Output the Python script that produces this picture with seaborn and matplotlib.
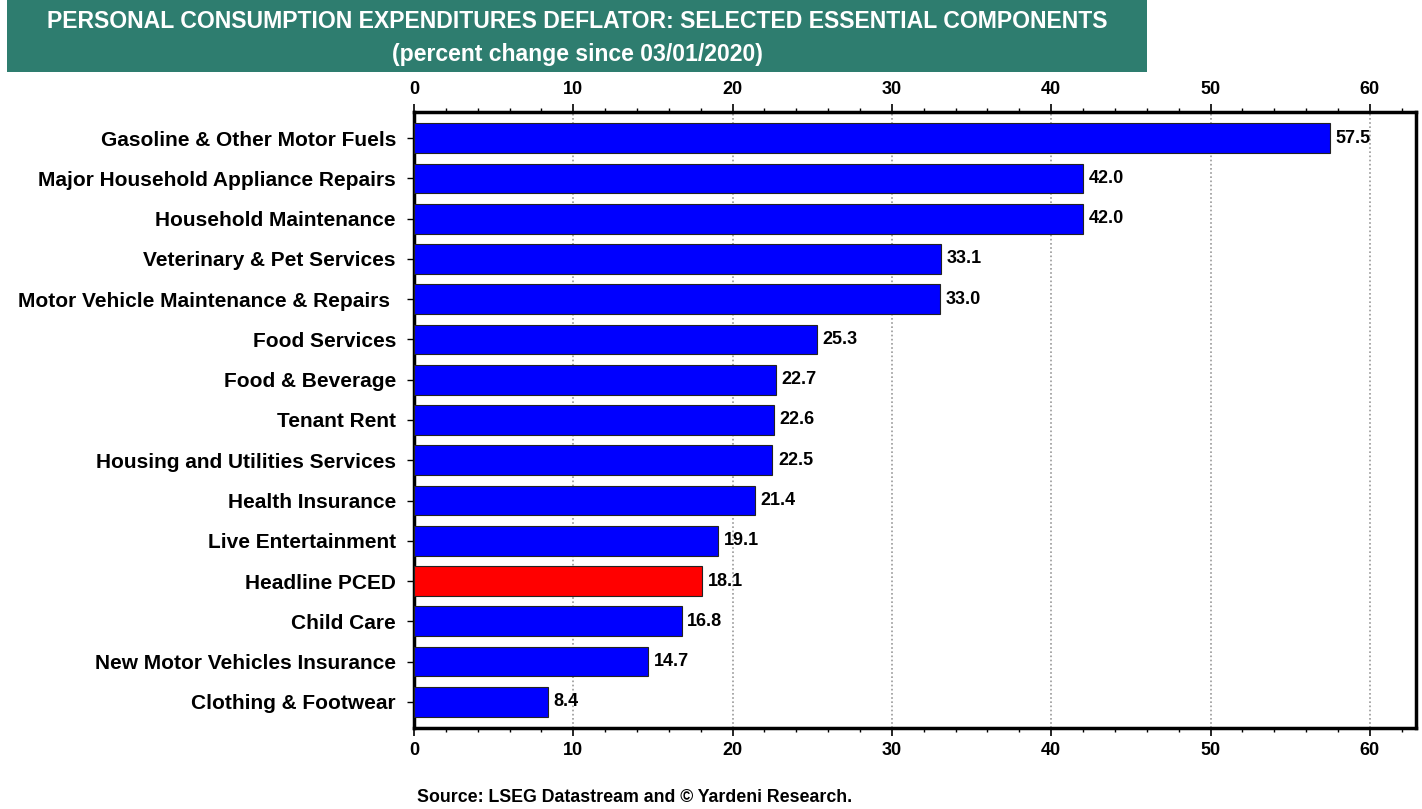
import pandas as pd
import numpy as np
import matplotlib
matplotlib.use('Agg')
import matplotlib.pyplot as plt
import seaborn as sns
from matplotlib.ticker import MultipleLocator
from matplotlib.patches import Rectangle

# Data
CATEGORIES = ['Gasoline & Other Motor Fuels', 'Major Household Appliance Repairs',
              'Household Maintenance', 'Veterinary & Pet Services',
              'Motor Vehicle Maintenance & Repairs ', 'Food Services',
              'Food & Beverage', 'Tenant Rent', 'Housing and Utilities Services',
              'Health Insurance', 'Live Entertainment', 'Headline PCED',
              'Child Care', 'New Motor Vehicles Insurance', 'Clothing & Footwear']
VALUES = [57.5, 42.0, 42.0, 33.1, 33.0, 25.3, 22.7, 22.6, 22.5, 21.4, 19.1, 18.1, 16.8, 14.7, 8.4]
HIGHLIGHT = 'Headline PCED'

TITLE = 'PERSONAL CONSUMPTION EXPENDITURES DEFLATOR: SELECTED ESSENTIAL COMPONENTS'
SUBTITLE = '(percent change since 03/01/2020)'
SOURCE = 'Source: LSEG Datastream and \u00a9 Yardeni Research.'

sns.set_theme(style='white')
plt.rcParams['font.family'] = ['Liberation Sans', 'DejaVu Sans']
plt.rcParams['font.weight'] = 'bold'
plt.rcParams['text.color'] = 'black'
plt.rcParams['xtick.color'] = 'black'
plt.rcParams['ytick.color'] = 'black'

df = pd.DataFrame({'cat': CATEGORIES, 'val': VALUES})
palette = {c: ('#FF0000' if c == HIGHLIGHT else '#0000FF') for c in CATEGORIES}

fig = plt.figure(figsize=(14.22, 8.09), dpi=100)
ax = fig.add_axes([414 / 1422, 1 - 728 / 809, (1416 - 414) / 1422, (728 - 112) / 809])

sns.barplot(data=df, x='val', y='cat', hue='cat', palette=palette, legend=False,
            orient='h', width=0.74, edgecolor='#222222', linewidth=0.8,
            saturation=1, ax=ax, zorder=3)

ax.set_xlim(0, 62.9)
ax.set_ylim(len(CATEGORIES) - 0.35, -0.65)
ax.set_xlabel('')
ax.set_ylabel('')

# value labels
for i, v in enumerate(VALUES):
    ax.text(v + 0.35, i, '{:.1f}'.format(v), va='center', ha='left',
            fontsize=13, fontweight='bold', color='black', zorder=5)

ax.xaxis.set_major_locator(MultipleLocator(10))
ax.xaxis.set_minor_locator(MultipleLocator(2))
ax.tick_params(axis='x', which='major', top=True, bottom=True, labeltop=True,
               labelbottom=True, direction='out', length=6, width=1.2,
               labelsize=13, pad=4, color='black', labelcolor='black')
ax.tick_params(axis='x', which='minor', top=True, bottom=True, direction='out',
               length=3, width=1, color='black')
ax.tick_params(axis='y', which='major', left=True, direction='out', length=5,
               width=1, labelsize=15, pad=8, color='black', labelcolor='black')
for lab in ax.get_xticklabels() + ax.get_yticklabels():
    lab.set_fontweight('bold')

ax.grid(axis='x', which='major', linestyle=(0, (1, 1.5)), color='#999999', linewidth=1.2, zorder=0)
ax.grid(axis='y', visible=False)
for s in ax.spines.values():
    s.set_visible(True)
    s.set_color('black')
    s.set_linewidth(2.5)

# title banner
fig.patches.append(Rectangle((7 / 1422, 1 - 72 / 809), (1147 - 7) / 1422, 72 / 809,
                             transform=fig.transFigure, facecolor='#2E7D6F',
                             edgecolor='none', zorder=0))
fig.text(577 / 1422, 1 - 22 / 809, TITLE, ha='center', va='center',
         fontsize=16.6, fontweight='bold', color='white')
fig.text(577 / 1422, 1 - 54 / 809, SUBTITLE, ha='center', va='center',
         fontsize=16.6, fontweight='bold', color='white')
fig.text(417 / 1422, 1 - 797 / 809, SOURCE, ha='left', va='center',
         fontsize=12.8, fontweight='bold', color='black')

fig.savefig('out.png', dpi=100)
